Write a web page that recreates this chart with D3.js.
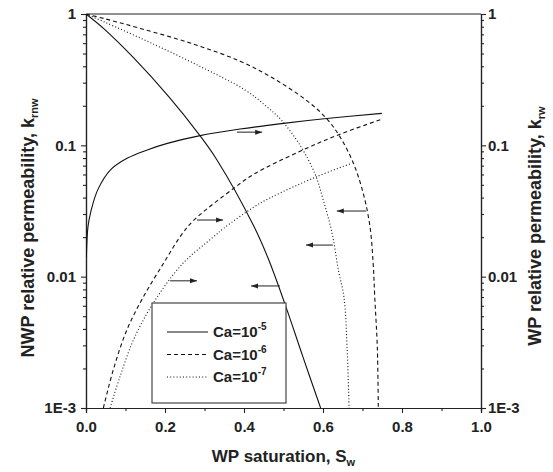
<!DOCTYPE html>
<html>
<head>
<meta charset="utf-8">
<script src="https://cdn.jsdelivr.net/npm/d3@7"></script>
<style>
  body { margin: 0; background: #fff; }
  text { font-family: "Liberation Sans", Arial, sans-serif; font-weight: bold; fill: #222; }
</style>
</head>
<body>
<div id="chart"></div>
<script>
// Ca = 1e-5 (solid)
const satNw5 = [0, 0.0456, 0.119, 0.21, 0.286, 0.3316, 0.4253, 0.4608, 0.5038, 0.5494, 0.594];
const krNw5 = [1, 0.771, 0.469, 0.234, 0.1213, 0.0774, 0.0241, 0.01386, 0.00618, 0.00244, 0.001];
const satW5 = [0.001, 0.005, 0.013, 0.03, 0.062, 0.105, 0.155, 0.206, 0.286, 0.39, 0.5, 0.609, 0.749];
const krW5 = [0.014, 0.024, 0.032, 0.046, 0.065, 0.08, 0.0923, 0.1035, 0.118, 0.133, 0.147, 0.16, 0.175];

// Ca = 1e-6 (dashed)
const satNw6 = [0, 0.046, 0.138, 0.273, 0.39, 0.474, 0.559, 0.609, 0.643, 0.677, 0.702, 0.719, 0.727, 0.731, 0.7375, 0.74];
const krNw6 = [1, 0.923, 0.776, 0.589, 0.437, 0.324, 0.219, 0.16, 0.116, 0.073, 0.043, 0.024, 0.0126, 0.007, 0.0029, 0.001];
const satW6 = [0.044, 0.069, 0.103, 0.145, 0.196, 0.242, 0.273, 0.375, 0.425, 0.542, 0.643, 0.749];
const krW6 = [0.001, 0.00195, 0.0039, 0.007, 0.0126, 0.0209, 0.0269, 0.0473, 0.0603, 0.0902, 0.1216, 0.158];

// Ca = 1e-7 (dotted)
const satNw7 = [0, 0.046, 0.164, 0.2904, 0.4025, 0.4575, 0.495, 0.542, 0.58, 0.601, 0.623, 0.639, 0.653, 0.661, 0.666];
const krNw7 = [1, 0.871, 0.603, 0.397, 0.264, 0.197, 0.155, 0.1, 0.0603, 0.038, 0.0214, 0.0112, 0.007, 0.0029, 0.001];
const satW7 = [0.061, 0.086, 0.12, 0.17, 0.245, 0.322, 0.349, 0.425, 0.466, 0.584, 0.673];
const krW7 = [0.001, 0.00173, 0.00329, 0.00627, 0.0126, 0.02, 0.0234, 0.0339, 0.0398, 0.0577, 0.073];

// arrows: [from, to] saturation at a given permeability
const arrowSat = [[0.382, 0.446], [0.281, 0.347], [0.213, 0.281], [0.491, 0.418], [0.625, 0.557], [0.709, 0.635]];
const arrowKr = [0.126, 0.027, 0.0093, 0.0085, 0.0174, 0.0316];

const legendExp = ["-5", "-6", "-7"];
const xTicks = [0, 0.2, 0.4, 0.6, 0.8, 1.0];
const yTicks = [1, 0.1, 0.01, 0.001];
const yTickLabels = ["1", "0.1", "0.01", "1E-3"];

const width = 553, height = 472;
const margin = { top: 14, right: 72, bottom: 64, left: 86 };
const innerW = width - margin.left - margin.right;
const innerH = height - margin.top - margin.bottom;

const svg = d3.select("#chart").append("svg")
    .attr("width", width)
    .attr("height", height);

const g = svg.append("g")
    .attr("transform", `translate(${margin.left},${margin.top})`);

const x = d3.scaleLinear().domain([0, 1]).range([0, innerW]);
const y = d3.scaleLog().domain([0.001, 1]).range([innerH, 0]);

const minorY = [];
[0.001, 0.01, 0.1].forEach(d => { for (let i = 2; i <= 9; i++) minorY.push(d * i); });
const minorX = [0.1, 0.3, 0.5, 0.7, 0.9];

// Axes
function styleAxis(sel) {
    sel.select(".domain").attr("stroke", "#222").attr("stroke-width", 1.2);
    sel.selectAll(".tick line").attr("stroke", "#222").attr("stroke-width", 1.1);
    sel.selectAll("text").style("font-size", "15px").attr("fill", "#222");
}

g.append("g")
    .attr("transform", `translate(0,${innerH})`)
    .call(d3.axisBottom(x).tickValues(xTicks).tickSize(5).tickPadding(8).tickFormat(d3.format(".1f")))
    .call(styleAxis);
g.append("g")
    .attr("transform", `translate(0,${innerH})`)
    .call(d3.axisBottom(x).tickValues(minorX).tickSize(3).tickFormat(""))
    .call(styleAxis);

const yFmt = d => yTickLabels[yTicks.indexOf(d)];
g.append("g")
    .call(d3.axisLeft(y).tickValues(yTicks).tickSize(5).tickPadding(5).tickFormat(yFmt))
    .call(styleAxis);
g.append("g")
    .call(d3.axisLeft(y).tickValues(minorY).tickSize(3).tickFormat(""))
    .call(styleAxis);
g.append("g")
    .attr("transform", `translate(${innerW},0)`)
    .call(d3.axisRight(y).tickValues(yTicks).tickSize(5).tickPadding(2).tickFormat(yFmt))
    .call(styleAxis);
g.append("g")
    .attr("transform", `translate(${innerW},0)`)
    .call(d3.axisRight(y).tickValues(minorY).tickSize(3).tickFormat(""))
    .call(styleAxis);

// top frame
g.append("line")
    .attr("x1", 0).attr("x2", innerW)
    .attr("y1", 0).attr("y2", 0)
    .attr("stroke", "#222").attr("stroke-width", 1.2);

// Curves
g.append("clipPath").attr("id", "plot-clip")
    .append("rect").attr("width", innerW).attr("height", innerH);

const line = d3.line()
    .x(d => x(d[0]))
    .y(d => y(d[1]))
    .curve(d3.curveCatmullRom.alpha(0.5));

const curves = [
    { sat: satNw5, kr: krNw5, dash: null },
    { sat: satW5, kr: krW5, dash: null },
    { sat: satNw6, kr: krNw6, dash: "4,3" },
    { sat: satW6, kr: krW6, dash: "4,3" },
    { sat: satNw7, kr: krNw7, dash: "1,2.2" },
    { sat: satW7, kr: krW7, dash: "1,2.2" }
];

g.append("g").attr("clip-path", "url(#plot-clip)")
    .selectAll("path")
    .data(curves)
    .enter()
    .append("path")
    .attr("d", c => line(c.sat.map((s, i) => [s, c.kr[i]])))
    .attr("fill", "none")
    .attr("stroke", "#111")
    .attr("stroke-width", 1.1)
    .attr("stroke-dasharray", c => c.dash);

// Arrows
svg.append("defs").append("marker")
    .attr("id", "arrow-head")
    .attr("markerUnits", "userSpaceOnUse")
    .attr("markerWidth", 8).attr("markerHeight", 6)
    .attr("refX", 7).attr("refY", 3)
    .attr("orient", "auto")
    .append("path")
    .attr("d", "M0,0.5 L7,3 L0,5.5 Z")
    .attr("fill", "#222");

g.selectAll(".arrow")
    .data(arrowSat)
    .enter()
    .append("line")
    .attr("class", "arrow")
    .attr("x1", d => x(d[0]))
    .attr("x2", d => x(d[1]))
    .attr("y1", (d, i) => y(arrowKr[i]))
    .attr("y2", (d, i) => y(arrowKr[i]))
    .attr("stroke", "#333")
    .attr("stroke-width", 1.1)
    .attr("marker-end", "url(#arrow-head)");

// Legend
const legend = g.append("g").attr("transform", "translate(66,289)");
legend.append("rect")
    .attr("width", 134).attr("height", 100)
    .attr("fill", "#fff")
    .attr("stroke", "#444").attr("stroke-width", 1.2);

const legendDash = [null, "4,3", "1,2.2"];
const rows = legend.selectAll(".row")
    .data(legendExp)
    .enter()
    .append("g")
    .attr("transform", (d, i) => `translate(15,${29 + i * 22.5})`);
rows.append("line")
    .attr("x1", 0).attr("x2", 41)
    .attr("stroke", "#111").attr("stroke-width", 1.1)
    .attr("stroke-dasharray", (d, i) => legendDash[i]);
const lt = rows.append("text")
    .attr("x", 46).attr("y", 5)
    .style("font-size", "15px");
lt.append("tspan").text("Ca=10");
lt.append("tspan").attr("dy", -7).style("font-size", "10px").text(d => d);

// Axis titles
const xTitle = svg.append("text")
    .attr("x", margin.left + innerW / 2)
    .attr("y", 462)
    .attr("text-anchor", "middle")
    .style("font-size", "17px");
xTitle.append("tspan").text("WP saturation, S");
xTitle.append("tspan").attr("dy", 4).style("font-size", "11px").text("w");

const yTitle = svg.append("text")
    .attr("transform", "translate(34,228) rotate(-90)")
    .attr("text-anchor", "middle")
    .style("font-size", "18px");
yTitle.append("tspan").text("NWP relative permeability, k");
yTitle.append("tspan").attr("dy", 4).style("font-size", "11px").text("rnw");

const y2Title = svg.append("text")
    .attr("transform", "translate(541,226) rotate(-90)")
    .attr("text-anchor", "middle")
    .style("font-size", "18px");
y2Title.append("tspan").text("WP relative permeability, k");
y2Title.append("tspan").attr("dy", 4).style("font-size", "11px").text("rw");
</script>
</body>
</html>
